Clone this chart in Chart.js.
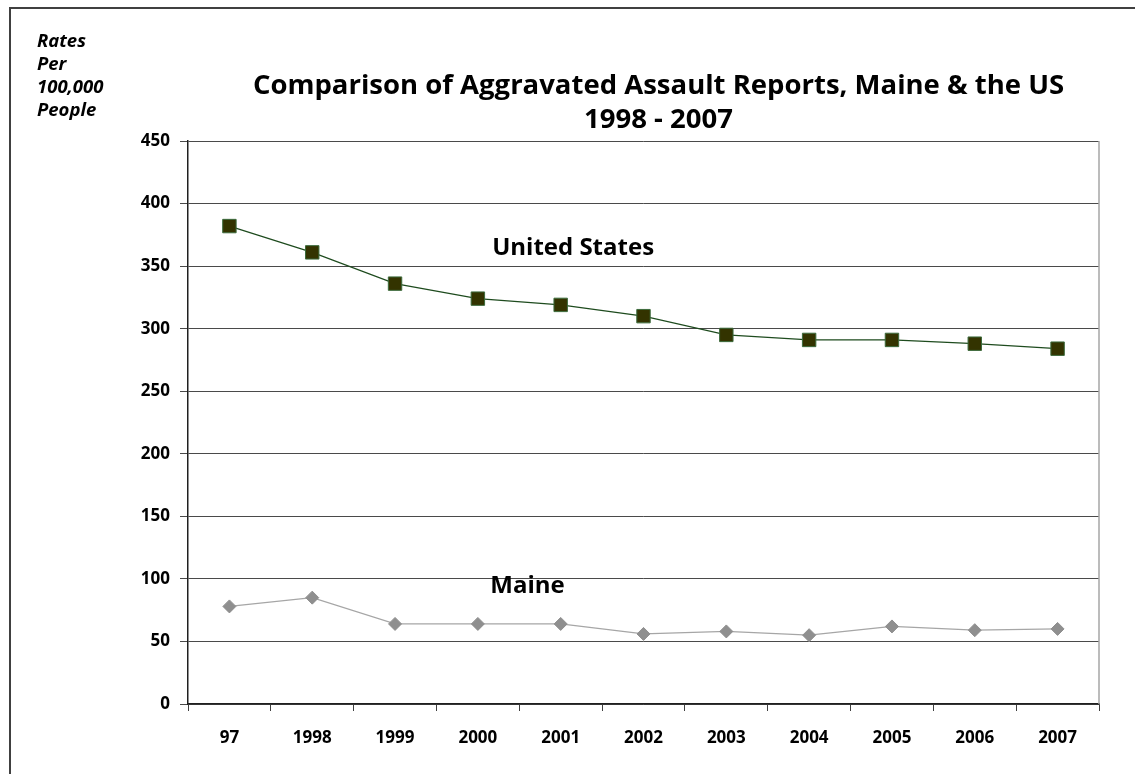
<!DOCTYPE html>
<html>
<head>
<meta charset="utf-8">
<script src="https://cdn.jsdelivr.net/npm/chart.js@4/dist/chart.umd.min.js"></script>
<style>
  html, body { margin: 0; padding: 0; background: #fff; }
  #wrap { width: 1135px; height: 774px; position: relative; }
</style>
</head>
<body>
<div id="wrap"><canvas id="chart" width="1135" height="774"></canvas></div>
<script>
// Data
const YEARS = ['97', '1998', '1999', '2000', '2001', '2002', '2003', '2004', '2005', '2006', '2007'];
const US_RATES = [382, 361, 336, 324, 319, 310, 295, 291, 291, 288, 284];
const MAINE_RATES = [78, 85, 64, 64, 64, 56, 58, 55, 62, 59, 60];

const TITLE_LINES = ['Comparison of Aggravated Assault Reports, Maine & the US', '1998 - 2007'];
const Y_LABEL_LINES = ['Rates', 'Per', '100,000', 'People'];

const FONT = '"Open Sans", "Liberation Sans", sans-serif';

// Frame, title, axis caption and series labels
const decorations = {
  id: 'decorations',
  beforeDraw(chart) {
    const ctx = chart.ctx;
    ctx.save();
    ctx.fillStyle = '#fff';
    ctx.fillRect(0, 0, chart.width, chart.height);
    ctx.strokeStyle = '#404040';
    ctx.lineWidth = 2;
    ctx.beginPath();
    ctx.moveTo(10, chart.height);
    ctx.lineTo(10, 8);
    ctx.lineTo(chart.width, 8);
    ctx.stroke();
    ctx.restore();
  },
  afterDraw(chart) {
    const { ctx, chartArea, scales } = chart;
    ctx.save();

    // right edge of plot area
    ctx.strokeStyle = '#a6a6a6';
    ctx.lineWidth = 1.5;
    ctx.beginPath();
    ctx.moveTo(chartArea.right, chartArea.top);
    ctx.lineTo(chartArea.right, chartArea.bottom);
    ctx.stroke();

    ctx.fillStyle = '#000';
    ctx.textAlign = 'center';
    ctx.textBaseline = 'middle';
    ctx.font = 'bold 27.5px ' + FONT;
    const cx = (chartArea.left + chartArea.right) / 2 + 15;
    ctx.fillText(TITLE_LINES[0], cx, 86);
    ctx.fillText(TITLE_LINES[1], cx, 120);

    ctx.textAlign = 'left';
    ctx.font = 'italic bold 18.5px ' + FONT;
    Y_LABEL_LINES.forEach((t, i) => ctx.fillText(t, 37, 42 + i * 23));

    ctx.textAlign = 'center';
    ctx.font = 'bold 24px ' + FONT;
    ctx.fillText('United States', scales.x.getPixelForValue(4.15), scales.y.getPixelForValue(364));
    ctx.fillText('Maine', scales.x.getPixelForValue(3.6), scales.y.getPixelForValue(94));
    ctx.restore();
  }
};

new Chart(document.getElementById('chart'), {
  type: 'line',
  data: {
    labels: YEARS,
    datasets: [
      {
        label: 'United States',
        data: US_RATES,
        borderColor: '#1e4b1e',
        borderWidth: 1.2,
        pointStyle: 'rect',
        pointRadius: 9.5,
        pointBackgroundColor: '#333300',
        pointBorderColor: '#3c6b3c',
        pointBorderWidth: 1,
        tension: 0,
      },
      {
        label: 'Maine',
        data: MAINE_RATES,
        borderColor: '#a6a6a6',
        borderWidth: 1.2,
        pointStyle: 'rectRot',
        pointRadius: 6.5,
        pointBackgroundColor: '#8f8f8f',
        pointBorderColor: '#8f8f8f',
        pointBorderWidth: 1,
        tension: 0,
      }
    ]
  },
  options: {
    responsive: false,
    animation: false,
    layout: { padding: { top: 141, right: 36, left: 0, bottom: 0 } },
    plugins: {
      legend: { display: false },
      title: { display: false },
      tooltip: { enabled: false },
    },
    scales: {
      x: {
        offset: true,
        afterFit: s => { s.height = 70; },
        grid: {
          offset: true,
          drawOnChartArea: false,
          drawTicks: true,
          tickLength: 7,
          color: '#404040',
        },
        border: { color: '#202020', width: 1.5 },
        ticks: {
          color: '#000',
          padding: 17,
          font: { family: FONT, size: 17, weight: 'bold' },
        }
      },
      y: {
        min: 0,
        max: 450,
        afterFit: s => { s.width = 188; },
        ticks: {
          stepSize: 50,
          color: '#000',
          padding: 10,
          font: { family: FONT, size: 17, weight: 'bold' },
        },
        grid: {
          color: '#4a4a4a',
          lineWidth: 1,
          tickLength: 8,
        },
        border: { color: '#202020', width: 1.5 },
      }
    }
  },
  plugins: [decorations]
});
</script>
</body>
</html>
